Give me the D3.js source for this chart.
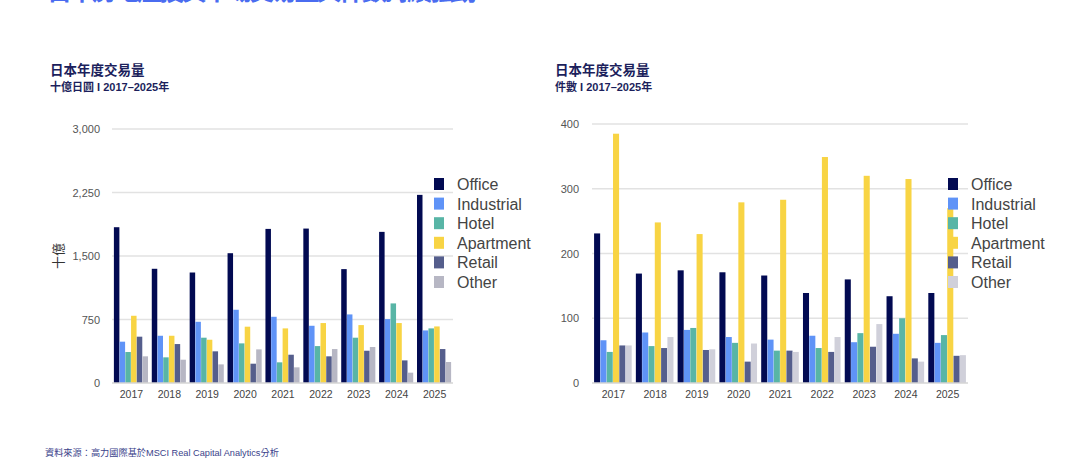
<!DOCTYPE html>
<html>
<head>
<meta charset="utf-8">
<script src="https://cdn.jsdelivr.net/npm/d3@7"></script>
<style>
  body { margin: 0; background: #fff; }
  svg { display: block; font-family: "Liberation Sans", Arial, "Noto Sans CJK TC", sans-serif; }
</style>
</head>
<body>
<svg id="chart" width="1080" height="476"></svg>
<script>
var years = ['2017', '2018', '2019', '2020', '2021', '2022', '2023', '2024', '2025']
var sectors = ['Office', 'Industrial', 'Hotel', 'Apartment', 'Retail', 'Other']

// 十億日圓
var volOffice = [1840, 1349, 1305, 1533, 1820, 1824, 1345, 1785, 2222]
var volIndustrial = [488, 558, 723, 865, 782, 676, 810, 755, 621]
var volHotel = [366, 303, 535, 468, 244, 436, 535, 940, 645]
var volApartment = [794, 558, 511, 665, 645, 708, 684, 708, 668]
var volRetail = [547, 460, 374, 228, 334, 315, 381, 267, 401]
var volOther = [315, 275, 220, 397, 185, 401, 425, 122, 248]
var volTicks = [0, 750, 1500, 2250, 3000]

// 件數
var cntOffice = [231, 169, 174, 171, 166, 139, 160, 134, 139]
var cntIndustrial = [66, 78, 82, 71, 67, 73, 63, 76, 62]
var cntHotel = [48, 57, 85, 62, 50, 54, 77, 100, 74]
var cntApartment = [385, 248, 230, 279, 283, 349, 320, 315, 270]
var cntRetail = [58, 54, 51, 33, 50, 48, 56, 38, 42]
var cntOther = [58, 71, 52, 61, 48, 71, 91, 33, 43]
var cntTicks = [0, 100, 200, 300, 400]

var svg = d3.select('#chart')
var navy = '#1c1f5c'

// page title, mostly cut off by the top edge
svg.append('text')
  .attr('x', 47).attr('y', 0)
  .attr('font-size', 25).attr('font-weight', 'bold')
  .attr('fill', '#4a6cf0')
  .attr('textLength', 430)
  .text('日本房地產投資市場交易量與件數持續強勁')

function drawChart (opt) {
  var g = svg.append('g')
  var series = [opt.office, opt.industrial, opt.hotel, opt.apartment, opt.retail, opt.other]
  var colors = ['#020a52', '#5f93f7', '#58b5a6', '#f8d444', '#555e8c', opt.otherColor]

  // titles
  g.append('text').attr('x', opt.titleX).attr('y', 75)
    .attr('font-size', 13.5).attr('font-weight', 'bold').attr('fill', navy)
    .text('日本年度交易量')
  g.append('text').attr('x', opt.titleX).attr('y', 91)
    .attr('font-size', 11).attr('font-weight', 'bold').attr('fill', navy)
    .text(opt.subtitle)

  var x = d3.scaleBand().domain(years).range([opt.x0, opt.x1])
  var inner = d3.scaleBand().domain(sectors)
    .range([0, x.bandwidth()]).paddingOuter(0.33).paddingInner(0.04)
  var y = d3.scaleLinear().domain([0, opt.ticks[opt.ticks.length - 1]]).range([383, opt.yTop])

  // gridlines
  g.append('g').selectAll('line').data(opt.ticks.slice(1)).join('line')
    .attr('x1', opt.x0).attr('x2', opt.x1)
    .attr('y1', function (d) { return y(d) }).attr('y2', function (d) { return y(d) })
    .attr('stroke', '#e2e2e2').attr('stroke-width', 1.5)

  // y labels
  g.append('g').selectAll('text').data(opt.ticks).join('text')
    .attr('x', opt.labelX).attr('y', function (d) { return y(d) + 4 })
    .attr('text-anchor', 'end').attr('font-size', 11).attr('fill', '#555')
    .text(function (d) { return d3.format(',')(d) })

  // bars
  series.forEach(function (vals, si) {
    g.append('g').selectAll('rect').data(vals).join('rect')
      .attr('x', function (d, i) { return x(years[i]) + inner(sectors[si]) })
      .attr('width', inner.bandwidth())
      .attr('y', function (d) { return y(d) })
      .attr('height', function (d) { return y(0) - y(d) })
      .attr('fill', colors[si])
  })

  // baseline
  g.append('line').attr('x1', opt.x0).attr('x2', opt.x1)
    .attr('y1', y(0)).attr('y2', y(0))
    .attr('stroke', '#d4d4d4').attr('stroke-width', 1.5)

  // x labels
  g.append('g').selectAll('text').data(years).join('text')
    .attr('x', function (d) { return x(d) + x.bandwidth() / 2 + 0.5 })
    .attr('y', 398)
    .attr('text-anchor', 'middle').attr('font-size', 10.5).attr('fill', '#444')
    .text(function (d) { return d })

  // legend
  var leg = g.append('g').attr('transform', 'translate(' + opt.legendX + ',178)')
  sectors.forEach(function (s, i) {
    leg.append('rect').attr('x', 0).attr('y', i * 19.6)
      .attr('width', 10).attr('height', 12).attr('fill', colors[i])
    leg.append('text').attr('x', 23).attr('y', i * 19.6 + 12)
      .attr('font-size', 16).attr('fill', '#444').text(s)
  })

  if (opt.yLabel) {
    g.append('text')
      .attr('transform', 'translate(63,256) rotate(-90)')
      .attr('text-anchor', 'middle').attr('font-size', 13).attr('fill', '#333')
      .text(opt.yLabel)
  }
}

drawChart({
  titleX: 50, subtitle: '十億日圓 I 2017–2025年',
  x0: 112, x1: 453, yTop: 129, labelX: 100, legendX: 434,
  ticks: volTicks, yLabel: '十億', otherColor: '#b7b7c4',
  office: volOffice, industrial: volIndustrial, hotel: volHotel,
  apartment: volApartment, retail: volRetail, other: volOther
})

drawChart({
  titleX: 555, subtitle: '件數 I 2017–2025年',
  x0: 592, x1: 968, yTop: 124, labelX: 579, legendX: 948,
  ticks: cntTicks, yLabel: null, otherColor: '#d0d0da',
  office: cntOffice, industrial: cntIndustrial, hotel: cntHotel,
  apartment: cntApartment, retail: cntRetail, other: cntOther
})

// source note
svg.append('text').attr('x', 45).attr('y', 456)
  .attr('font-size', 9.2).attr('fill', '#3a3f8a')
  .text('資料來源：高力國際基於MSCI Real Capital Analytics分析')
</script>
</body>
</html>
